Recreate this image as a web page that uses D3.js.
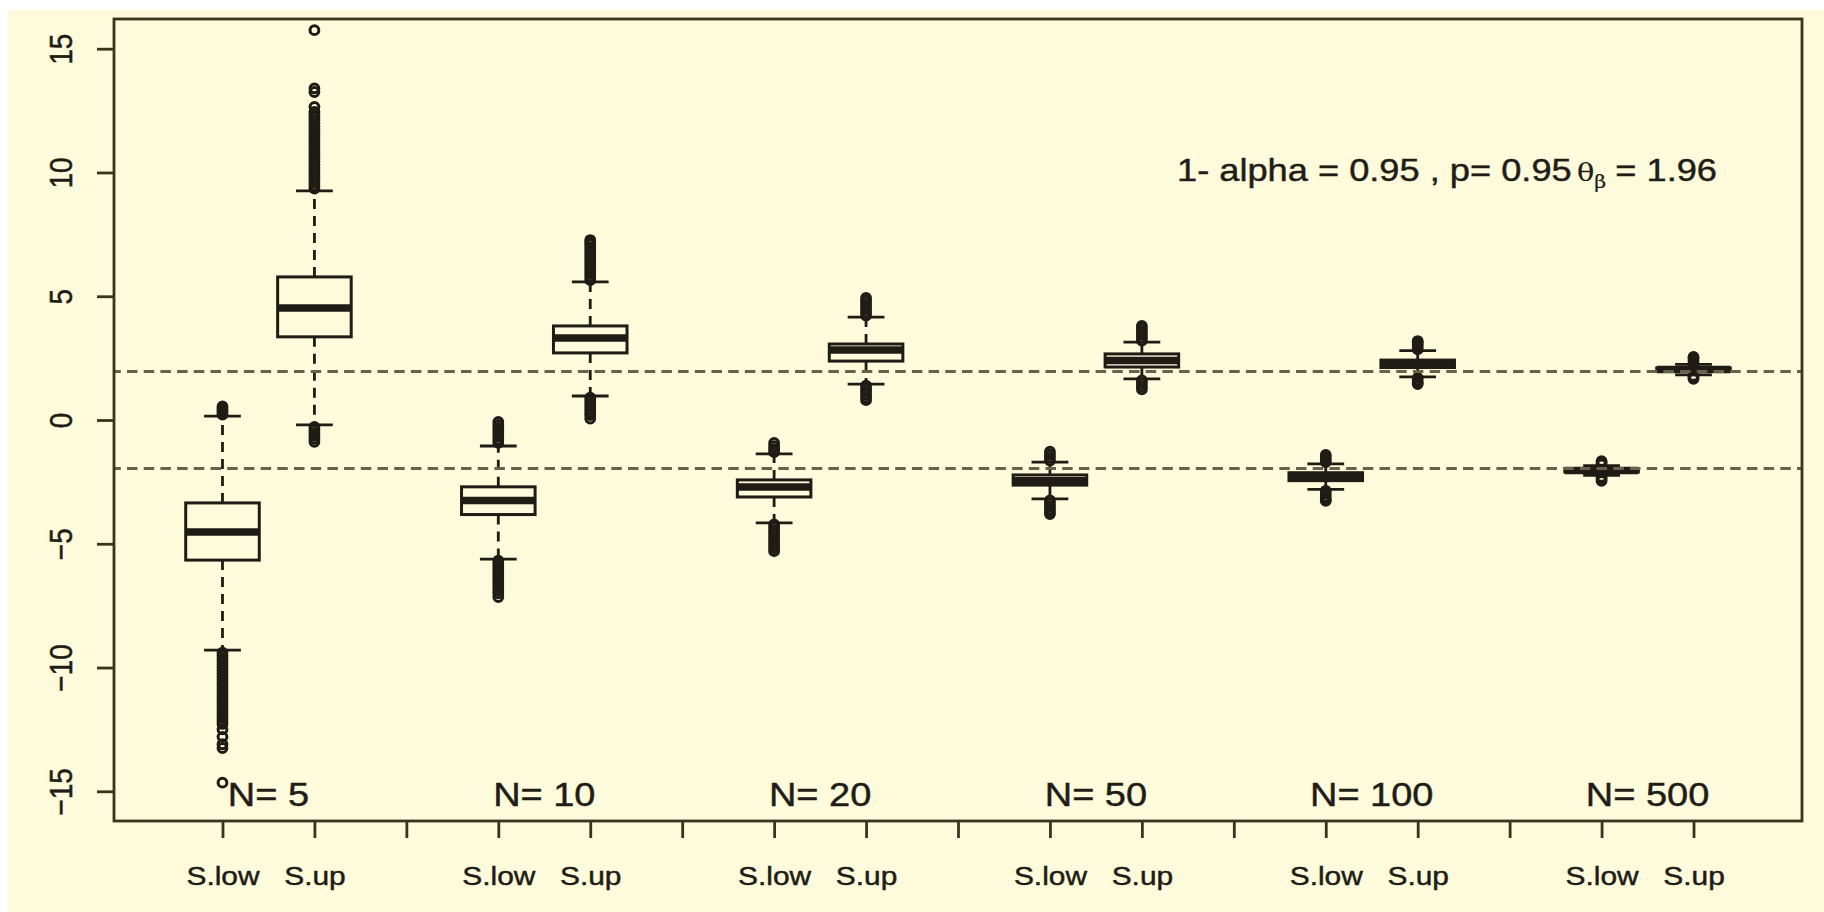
<!DOCTYPE html>
<html>
<head>
<meta charset="utf-8">
<script src="https://cdn.jsdelivr.net/npm/d3@7"></script>
<style>
  html, body { margin: 0; padding: 0; background: #ffffff; }
  svg { display: block; }
  text { font-family: "Liberation Sans", Arial, sans-serif; fill: #1f1d16; stroke: #1f1d16; stroke-width: 0.45px; }
</style>
</head>
<body>
<svg id="chart" width="1824" height="912"></svg>
<script>
// group labels (one pair of boxes per sample size)
const groups = ['N= 5', 'N= 10', 'N= 20', 'N= 50', 'N= 100', 'N= 500'];
const boxLabels = ['S.low', 'S.up'];

// box statistics, in order N=5 low, N=5 up, N=10 low, ...
const lowerWhisker = [-9.30, -0.20, -5.62, 0.97, -4.16, 1.45, -3.19, 1.66, -2.80, 1.74, -2.24, 1.82];
const q1Values     = [-5.66, 3.36, -3.82, 2.71, -3.11, 2.38, -2.63, 2.14, -2.45, 2.12, -2.10, 1.97];
const medianValues = [-4.52, 4.52, -3.25, 3.31, -2.71, 2.83, -2.45, 2.40, -2.29, 2.27, -2.04, 2.04];
const q3Values     = [-3.35, 5.78, -2.70, 3.80, -2.42, 3.07, -2.22, 2.67, -2.13, 2.42, -1.97, 2.10];
const upperWhisker = [0.16, 9.26, -1.05, 5.58, -1.37, 4.16, -1.70, 3.15, -1.77, 2.80, -1.84, 2.25];

// outliers (dense bands listed point by point)
const outliers = [
  [0.22, 0.30, 0.38, 0.46, 0.55, -9.40, -9.52, -9.64, -9.76, -9.88, -10.00, -10.12, -10.24, -10.36,
   -10.48, -10.60, -10.72, -10.84, -10.96, -11.08, -11.20, -11.32, -11.44, -11.56, -11.68, -11.80,
   -11.92, -12.04, -12.16, -12.28, -12.50, -12.80, -13.10, -13.25, -14.65],
  [-0.28, -0.40, -0.52, -0.64, -0.76, -0.88, 9.35, 9.47, 9.59, 9.71, 9.83, 9.95, 10.07, 10.19, 10.31,
   10.43, 10.55, 10.67, 10.79, 10.91, 11.03, 11.15, 11.27, 11.39, 11.51, 11.63, 11.75, 11.87, 11.99,
   12.11, 12.23, 12.33, 12.45, 12.65, 13.25, 13.40, 15.75],
  [-0.08, -0.20, -0.32, -0.44, -0.56, -0.68, -0.80, -0.92, -5.68, -5.80, -5.92, -6.04, -6.16, -6.28,
   -6.40, -6.52, -6.64, -6.76, -6.88, -7.00, -7.15],
  [5.65, 5.77, 5.89, 6.01, 6.13, 6.25, 6.37, 6.49, 6.61, 6.73, 6.85, 6.97, 7.09, 7.18, 7.27,
   0.90, 0.78, 0.66, 0.54, 0.42, 0.30, 0.20, 0.06],
  [-1.30, -1.18, -1.06, -0.93, -4.22, -4.34, -4.46, -4.58, -4.70, -4.82, -4.94, -5.06, -5.18, -5.30],
  [4.22, 4.34, 4.46, 4.58, 4.70, 4.82, 4.93, 1.39, 1.27, 1.15, 1.03, 0.91, 0.80],
  [-1.64, -1.52, -1.40, -1.28, -3.25, -3.37, -3.49, -3.61, -3.72, -3.80],
  [3.21, 3.33, 3.45, 3.57, 3.69, 3.80, 1.60, 1.48, 1.36, 1.24],
  [-1.70, -1.60, -1.50, -1.41, -2.86, -2.98, -3.10, -3.20, -3.27],
  [2.86, 2.96, 3.06, 3.14, 3.19, 1.70, 1.60, 1.50, 1.45],
  [-1.79, -1.72, -1.66, -2.30, -2.38, -2.46],
  [2.30, 2.40, 2.50, 2.55, 1.78, 1.72, 1.66]
];

const yTicks = [-15, -10, -5, 0, 5, 10, 15];
const refLines = [-1.96, 1.96];
const noteText = '1- alpha = 0.95 , p= 0.95';
const noteValue = '= 1.96';

// layout
const cream = '#fdfbdc';
const ink = '#1e1c14';
const frameCol = '#38351f';
const stretch = 1.15; // the picture is stretched horizontally
const plotLeft = 114, plotRight = 1802, plotTop = 19, plotBottom = 821;

const svg = d3.select('#chart');

// background
svg.append('rect').attr('x', 0).attr('y', 0).attr('width', 1824).attr('height', 912).attr('fill', '#ffffff');
svg.append('rect').attr('x', 8).attr('y', 10).attr('width', 1816).attr('height', 902).attr('fill', cream);

// positions: two boxes per group, then one empty slot
const boxes = [];
groups.forEach((g, gi) => {
  boxLabels.forEach((lab, k) => {
    const i = gi * 2 + k;
    boxes.push({
      pos: gi * 3 + k + 1,
      label: lab,
      lo: lowerWhisker[i], q1: q1Values[i], med: medianValues[i], q3: q3Values[i], hi: upperWhisker[i],
      out: outliers[i]
    });
  });
});
const nSlots = groups.length * 3 - 1;

const x = d3.scaleLinear()
  .domain([0.5 - 0.04 * nSlots, nSlots + 0.5 + 0.04 * nSlots])
  .range([plotLeft, plotRight]);
const y = d3.scaleLinear()
  .domain([-16.2, 16.2])
  .range([plotBottom, plotTop]);

// y axis
const yAxis = svg.append('g')
  .attr('transform', `translate(${plotLeft},0)`)
  .call(d3.axisLeft(y).tickValues(yTicks).tickSize(17).tickFormat(d3.format('d')));
yAxis.select('.domain').remove();
yAxis.selectAll('line').attr('stroke', frameCol).attr('stroke-width', 2.8);
yAxis.selectAll('text')
  .attr('x', null).attr('dy', null)
  .attr('text-anchor', 'middle')
  .attr('transform', `translate(-42,0) scale(${stretch},1) rotate(-90)`)
  .style('font-size', '28px')
  .style('fill', ink);

// x axis
const slotLabel = {};
boxes.forEach(b => { slotLabel[b.pos] = b.label; });
const xAxis = svg.append('g')
  .attr('transform', `translate(0,${plotBottom})`)
  .call(d3.axisBottom(x).tickValues(d3.range(1, nSlots + 1)).tickSize(17)
    .tickFormat(p => slotLabel[p] || ''));
xAxis.select('.domain').remove();
xAxis.selectAll('line').attr('stroke', frameCol).attr('stroke-width', 2.8);
xAxis.selectAll('text')
  .attr('y', null).attr('dy', null)
  .attr('transform', `translate(0,64) scale(${stretch},1)`)
  .style('font-size', '26px')
  .style('fill', ink);

// boxes
const halfBox = 0.4, halfCap = 0.2;
const bg = svg.append('g');
const bx = bg.selectAll('g.box').data(boxes).join('g').attr('class', 'box');

// dashed whiskers
bx.append('line')
  .attr('x1', d => x(d.pos)).attr('x2', d => x(d.pos))
  .attr('y1', d => y(d.q3)).attr('y2', d => y(d.hi))
  .attr('stroke', ink).attr('stroke-width', 2.8).attr('stroke-dasharray', '10,7');
bx.append('line')
  .attr('x1', d => x(d.pos)).attr('x2', d => x(d.pos))
  .attr('y1', d => y(d.q1)).attr('y2', d => y(d.lo))
  .attr('stroke', ink).attr('stroke-width', 2.8).attr('stroke-dasharray', '10,7');
// staples
['hi', 'lo'].forEach(key => {
  bx.append('line')
    .attr('x1', d => x(d.pos - halfCap)).attr('x2', d => x(d.pos + halfCap))
    .attr('y1', d => y(d[key])).attr('y2', d => y(d[key]))
    .attr('stroke', ink).attr('stroke-width', 2.8);
});
// box body
bx.append('rect')
  .attr('x', d => x(d.pos - halfBox))
  .attr('width', d => x(d.pos + halfBox) - x(d.pos - halfBox))
  .attr('y', d => y(d.q3))
  .attr('height', d => y(d.q1) - y(d.q3))
  .attr('fill', cream).attr('stroke', ink).attr('stroke-width', 3);
// median
bx.append('line')
  .attr('x1', d => x(d.pos - halfBox)).attr('x2', d => x(d.pos + halfBox))
  .attr('y1', d => y(d.med)).attr('y2', d => y(d.med))
  .attr('stroke', ink).attr('stroke-width', 7.5);
// outliers
bx.selectAll('circle')
  .data(d => d.out.map(v => ({ pos: d.pos, v })))
  .join('circle')
  .attr('cx', d => x(d.pos)).attr('cy', d => y(d.v)).attr('r', 4.4)
  .attr('fill', 'none').attr('stroke', ink).attr('stroke-width', 3);

// reference lines at +-1.96
svg.append('g').selectAll('line').data(refLines).join('line')
  .attr('x1', plotLeft).attr('x2', plotRight)
  .attr('y1', d => y(d)).attr('y2', d => y(d))
  .attr('stroke', '#67624c').attr('stroke-width', 2.8).attr('stroke-dasharray', '10.5,6.2')
  .attr('stroke-dashoffset', -13);

// group labels at the bottom of the plot
svg.append('g').selectAll('text').data(groups).join('text')
  .attr('transform', (d, i) => `translate(${x(i * 3 + 1.5)},806) scale(${stretch},1)`)
  .attr('text-anchor', 'middle')
  .style('font-size', '33px')
  .text(d => d);

// annotation
svg.append('text')
  .attr('transform', `translate(1177,181) scale(${stretch},1)`)
  .style('font-size', '31.5px')
  .text(noteText);
const theta = svg.append('text')
  .attr('transform', `translate(1577,181) scale(${stretch},1)`)
  .style('font-family', '"DejaVu Serif", "Liberation Serif", serif')
  .style('stroke-width', '0.2px');
theta.append('tspan').style('font-size', '25px').text('θ');
theta.append('tspan').attr('dy', 7).style('font-size', '18px').text('β');
svg.append('text')
  .attr('transform', `translate(1717,181) scale(${stretch},1)`)
  .attr('text-anchor', 'end')
  .style('font-size', '31.5px')
  .text(noteValue);

// plot frame
svg.append('rect')
  .attr('x', plotLeft).attr('y', plotTop)
  .attr('width', plotRight - plotLeft).attr('height', plotBottom - plotTop)
  .attr('fill', 'none').attr('stroke', frameCol).attr('stroke-width', 2.8);
</script>
</body>
</html>
